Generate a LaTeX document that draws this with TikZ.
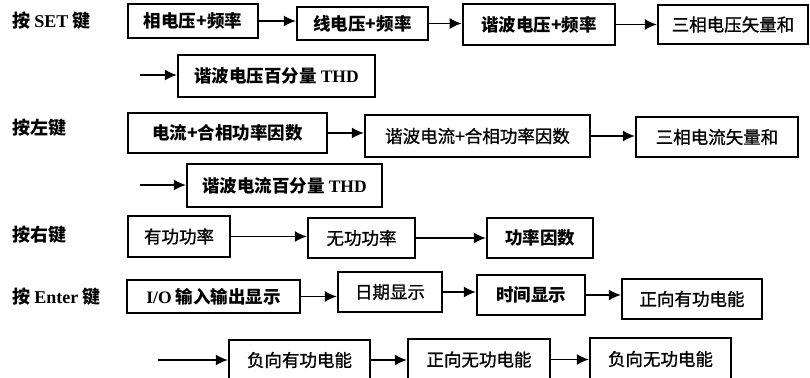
\documentclass[tikz,border=0pt]{standalone}
\usepackage{fontspec}
\setmainfont{Liberation Serif}
\newfontfamily\cjk{Noto Sans CJK SC}[UprightFeatures={FakeBold=1}]
\usetikzlibrary{arrows.meta}
\newcommand\LT[1]{{\rmfamily\bfseries #1}}
\tikzset{
  box/.style={draw, line width=2.2pt, inner sep=0pt, align=center,
    font=\cjk\fontsize{17.5}{17.5}\selectfont},
  boxb/.style={box, font=\cjk\bfseries\fontsize{17.5}{17.5}\selectfont},
  keylab/.style={anchor=west, inner sep=0pt, font=\cjk\bfseries\fontsize{18}{18}\selectfont},
  arr/.style={line width=1.8pt, -{Latex[length=12pt,width=11pt]}}
}
\begin{document}
\begin{tikzpicture}[x=1pt,y=-1pt]
\useasboundingbox (0,0) rectangle (810,377);
\fill[white] (0,0) rectangle (810,377);

% key labels
\node[keylab] (k1) at (12,21) {按 \LT{SET} 键};
\node[keylab] (k2) at (12,128) {按左键};
\node[keylab] (k3) at (12,235) {按右键};
\node[keylab] (k4) at (12,297) {按 \LT{Enter} 键};

% row 1 : SET
\node[boxb, minimum width=130pt, minimum height=34pt] (a1) at (193,21) {相电压+频率};
\node[boxb, minimum width=131pt, minimum height=33pt] (a2) at (362.5,23.5) {线电压+频率};
\node[boxb, minimum width=152pt, minimum height=41pt, line width=2.6pt] (a3) at (539,24.5) {谐波电压+频率};
\node[box, minimum width=150pt, minimum height=39pt] (a4) at (733,24.5) {三相电压矢量和};
\coordinate (c1) at (140,75);
\node[boxb, minimum width=197pt, minimum height=42pt] (a5) at (276.5,76) {谐波电压百分量 \LT{THD}};

\draw[arr] (a1.east) -- (a1.east -| a2.west);
\draw[arr] (a2.east) -- (a2.east -| a3.west);
\draw[arr] (a3.east) -- (a3.east -| a4.west);
\draw[arr] (c1) -- (c1 -| a5.west);

% row 2 : left key
\node[boxb, minimum width=199pt, minimum height=40pt] (b1) at (227.5,133) {电流+合相功率因数};
\node[box, minimum width=225pt, minimum height=42pt] (b2) at (477.5,136) {谐波电流+合相功率因数};
\node[box, minimum width=162pt, minimum height=40pt] (b3) at (717,137) {三相电流矢量和};
\coordinate (c2) at (140,185);
\node[boxb, minimum width=195pt, minimum height=43pt] (b4) at (284.5,185.5) {谐波电流百分量 \LT{THD}};

\draw[arr] (b1.east) -- (b1.east -| b2.west);
\draw[arr] (b2.east) -- (b2.east -| b3.west);
\draw[arr] (c2) -- (c2 -| b4.west);

% row 3 : right key
\node[box, minimum width=102pt, minimum height=41pt] (d1) at (179,236.5) {有功功率};
\node[box, minimum width=107pt, minimum height=40pt] (d2) at (361.5,238) {无功功率};
\node[boxb, minimum width=106pt, minimum height=40pt] (d3) at (540,238) {功率因数};

\draw[arr] (d1.east) -- (d1.east -| d2.west);
\draw[arr] (d2.east) -- (d2.east -| d3.west);

% row 4 : Enter key
\node[boxb, minimum width=173pt, minimum height=33pt, line width=2.6pt] (e1) at (213.5,296.5) {\LT{I/O} 输入输出显示};
\node[box, minimum width=104pt, minimum height=40pt] (e2) at (390,292) {日期显示};
\node[boxb, minimum width=108pt, minimum height=40pt] (e3) at (531,295) {时间显示};
\node[box, minimum width=140pt, minimum height=40pt] (e4) at (692,299) {正向有功电能};

\draw[arr] (e1.east) -- (e1.east -| e2.west);
\draw[arr] (e2.east) -- (e2.east -| e3.west);
\draw[arr] (e3.east) -- (e3.east -| e4.west);

% row 5
\coordinate (c3) at (158,360);
\node[box, minimum width=141pt, minimum height=40pt] (f1) at (299.5,360) {负向有功电能};
\node[box, minimum width=142pt, minimum height=41pt] (f2) at (479,359.5) {正向无功电能};
\node[box, minimum width=141pt, minimum height=42pt] (f3) at (660.5,359) {负向无功电能};

\draw[arr] (c3) -- (c3 -| f1.west);
\draw[arr] (f1.east) -- (f1.east -| f2.west);
\draw[arr] (f2.east) -- (f2.east -| f3.west);
\end{tikzpicture}
\end{document}
